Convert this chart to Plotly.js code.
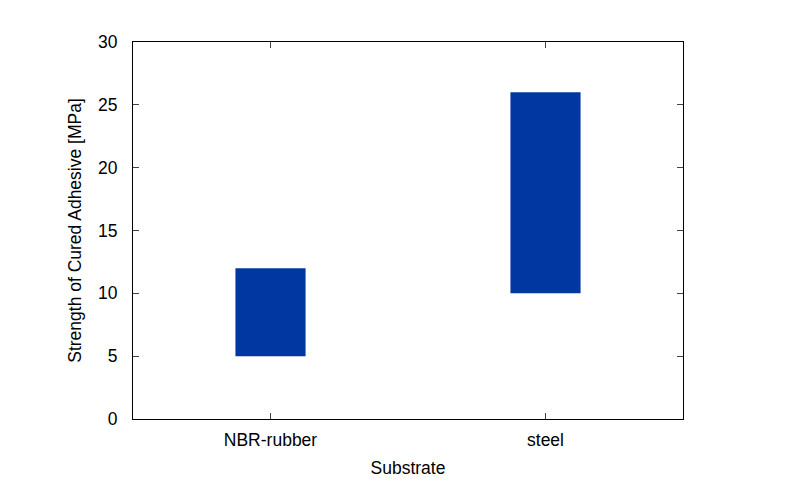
<!DOCTYPE html>
<html>
<head>
<meta charset="utf-8">
<script src="https://cdn.plot.ly/plotly-3.0.1.min.js"></script>
<style>html,body{margin:0;padding:0;background:#fff;}#chart{width:800px;height:489px;}</style>
</head>
<body>
<div id="chart"></div>
<script>
const categories = ["NBR-rubber", "steel"];
const lowValues = [5, 10];
const highValues = [12, 26];
const yTicks = [0, 5, 10, 15, 20, 25, 30];

const trace = {
  type: "bar",
  x: [0, 1],
  base: lowValues,
  y: highValues.map((h, i) => h - lowValues[i]),
  width: 0.255,
  marker: { color: "#0037a0", line: { width: 0 } },
  hoverinfo: "skip"
};

const font = { family: "Liberation Sans, Arial, sans-serif", size: 17.5, color: "#000" };

const layout = {
  width: 800, height: 489,
  margin: { l: 133, r: 117, t: 42, b: 70 },
  paper_bgcolor: "#fff", plot_bgcolor: "#fff",
  showlegend: false,
  font: font,
  xaxis: {
    range: [-0.5, 1.5],
    tickvals: [0, 1], ticktext: categories,
    ticks: "inside", ticklen: 6, tickcolor: "#444", tickwidth: 1,
    showline: true, linecolor: "#000", linewidth: 1, mirror: "ticks",
    showgrid: false, zeroline: false,
    ticklabelstandoff: 5,
    title: { text: "Substrate", font: font, standoff: 12 }
  },
  yaxis: {
    range: [0, 30],
    tickvals: yTicks,
    ticks: "inside", ticklen: 6, tickcolor: "#444", tickwidth: 1,
    showline: true, linecolor: "#000", linewidth: 1, mirror: "ticks",
    showgrid: false, zeroline: false,
    ticklabelstandoff: 11,
    title: { text: "Strength of Cured Adhesive [MPa]", font: font, standoff: 11 }
  }
};

Plotly.newPlot("chart", [trace], layout, { staticPlot: true, displayModeBar: false });
</script>
</body>
</html>
